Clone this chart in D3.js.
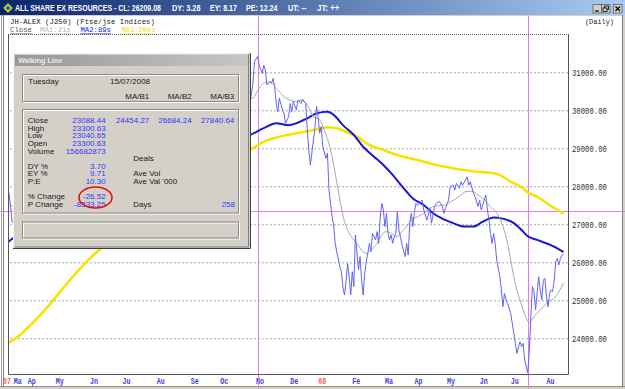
<!DOCTYPE html>
<html>
<head>
<meta charset="utf-8">
<script src="https://cdn.jsdelivr.net/npm/d3@7"></script>
<style>
  html, body { margin: 0; padding: 0; background: #fff; }
  svg { display: block; }
</style>
</head>
<body>
<svg id="chart" width="625" height="389"></svg>
<script>
// trading-day index (0 = ~mid March 2007), value
const closeSeries = [
  [-2,27950],[-1,27800],[0,27450],[1,27050],[4,27200],[8,27600],[12,27900],[17,28300],[22,28100],[27,28600],
  [32,28900],[37,29300],[42,28800],[47,29100],[52,29400],[57,29000],[62,29300],[67,29700],[72,29900],[77,30300],
  [82,29800],[87,29000],[92,28400],[97,27600],[100,28300],[104,28900],[109,29200],[114,29400],[119,29900],[124,29700],
  [129,30100],[134,30300],[139,30600],[144,30900],[149,30400],[152,30100],
  [154,30140],[156,30710],[157,31280],[159,31421],[160,31190],[162,30970],[163,31190],[164,31060],[165,30670],[167,30750],
  [168,30710],[169,30840],[170,30620],[171,30180],[172,29960],[173,30320],[175,30010],[176,29920],[177,29660],[179,29830],
  [180,30180],[181,29960],[182,30230],[184,30010],[185,30270],[187,30180],[188,30290],[190,30180],[191,29480],[192,28960],
  [193,28560],[195,29220],[196,29570],[197,30100],[198,29830],[199,29400],[200,29570],[201,29040],[203,28740],[204,28870],
  [205,27900],[207,27200],[208,26980],[209,26500],[210,26280],[212,25880],[213,25750],[214,25320],[215,25140],[216,25530],
  [217,25970],[218,25620],[219,25140],[220,25750],[221,25360],[222,26720],[223,26240],[224,25800],[225,26150],[226,25530],
  [227,25140],[228,25710],[229,26020],[230,26240],[231,26500],[232,26280],[233,26760],[235,26590],[236,26810],[237,26500],
  [238,27200],[239,27550],[240,27380],[241,26940],[242,27290],[243,26760],[244,26590],[245,26720],[246,26500],[247,26670],
  [248,26760],[249,27330],[250,26850],[251,26670],[252,26460],[254,26150],[255,26500],[256,26190],[257,27030],[258,27290],
  [259,26940],[260,27330],[261,27550],[262,27500],[265,27640],[266,27380],[268,27110],[270,27420],[271,27030],[273,27470],
  [274,27550],[276,27600],[278,27470],[279,27290],[280,27420],[282,27640],[283,27990],[285,28030],[286,27900],[287,28080],
  [289,27950],[290,28120],[291,28030],[293,28170],[294,28250],[295,28030],[296,28120],[298,27820],[299,27730],[301,27470],
  [302,27640],[303,27380],[305,27640],[306,27770],[307,27380],[308,27110],[309,26760],[310,26500],[311,26760],[312,26500],
  [313,26060],[315,25620],[316,25270],[317,24830],[318,25180],[319,25010],[320,24920],[322,24660],[323,24400],[324,24130],
  [325,23870],[326,23600],[327,23780],[328,23910],[329,23780],[330,23870],[331,23430],[332,23250],[333,23088.44],[334,23690],
  [335,24570],[336,25360],[337,25230],[338,24750],[339,25180],[340,25620],[341,25270],[342,25010],[343,25530],[344,25580],
  [345,25100],[346,24830],[347,25180],[348,25270],[349,25230],[350,25530],[351,26020],[352,26100],[353,25930],[354,26100],
  [355,26190],[356,26209.08]
];

const ma1Series = [
  [-2,27550],[10,27350],[20,27800],[30,28300],[40,28900],[50,29100],[60,29200],[70,29500],[80,29800],[90,29500],
  [100,28600],[110,28500],[120,29100],[130,29600],[140,30000],[150,30250],
  [156,30320],[160,30580],[163,30710],[167,30750],[171,30580],[176,30360],[180,30270],[184,30230],[187,30270],[191,30140],
  [195,29830],[199,29750],[202,29480],[206,28960],[209,28340],[212,27640],[215,27070],[219,26700],[223,26500],[226,26320],
  [229,26240],[232,26320],[236,26500],[239,26720],[242,26810],[245,26760],[249,26670],[252,26810],[255,26940],[258,27110],
  [262,27200],[266,27290],[270,27430],[274,27480],[279,27500],[283,27580],[290,27770],[293,27860],[297,27870],[300,27800],
  [304,27680],[309,27460],[312,27350],[315,27160],[317,26940],[320,26500],[322,26060],[324,25620],[326,25270],[328,25010],
  [330,24750],[333,24454.27],[334,24420],[337,24570],[340,24700],[343,24830],[346,24960],[350,25050],[353,25230],[356,25450]
];

const ma2Series = [
  [-2,26520],[1,26620],[20,26950],[40,27350],[60,27800],[80,28250],[100,28650],[120,28900],[140,29150],
  [154,29350],[163,29530],[171,29660],[179,29610],[184,29660],[191,29790],[197,29920],[204,29960],[208,29880],[214,29610],
  [221,29350],[227,29040],[234,28780],[240,28560],[246,28300],[253,27950],[259,27680],[266,27510],[272,27290],[279,27130],
  [285,27030],[292,26940],[298,26940],[304,27070],[311,27180],[317,27150],[324,27030],[329,26850],[333,26684.24],[339,26590],
  [345,26500],[352,26370],[356,26270]
];

const ma3Series = [
  [-2,23870],[6,24090],[15,24440],[23,24790],[32,25230],[40,25620],[49,26020],[58,26370],[70,26800],[85,27300],
  [100,27750],[115,28150],[130,28500],[145,28800],
  [154,28955],[163,29174],[173,29305],[184,29395],[195,29482],[204,29553],[210,29526],[216,29437],[223,29305],[231,29087],
  [240,28955],[249,28824],[257,28737],[266,28647],[274,28561],[283,28489],[292,28429],[300,28384],[309,28358],[315,28297],
  [322,28121],[330,27947],[333,27840.64],[339,27726],[347,27508],[356,27290]
];

const yTicks = [24000, 25000, 26000, 27000, 28000, 29000, 30000, 31000];
const monthLabels = ['07','Ma','Ap','My','Jn','Ju','Au','Se','Oc','No','De','08','Fe','Ma','Ap','My','Jn','Ju','Au'];
const monthDays = [-4, 3, 12, 30, 52, 73, 95, 117, 136, 159, 181, 199, 221, 242, 261, 282, 303, 323, 346];
const cursorDays = [159, 333];
const cursorValue = 27350;

const titleParts = [
  ['ALL SHARE EX RESOURCES  -  CL: 26209.08', 15, 146],
  ['DY: 3.28', 172, 28.5],
  ['EY: 8.17', 210, 27],
  ['PE: 12.24', 246, 31.5],
  ['UT: --', 288, 18.5],
  ['JT: ++', 317, 22.5]
];
const legendParts = [
  ['Close', 10, 22, '#555555'],
  ['MA1:21e', 40, 31, '#b8b8b8'],
  ['MA2:89s', 80.5, 30.5, '#2020e0'],
  ['MA3:200s', 121.6, 34, '#f0e020']
];

const panelRows = ['Close', 'High', 'Low', 'Open', 'Volume', 'DY %', 'EY %', 'P:E', '% Change', 'P Change'];
const panelValues = ['23088.44', '23300.63', '23040.65', '23300.63', '156682873', '3.70', '9.71', '10.30', '-26.52', '-8333.25'];
const panelMAHeads = ['MA/B1', 'MA/B2', 'MA/B3'];
const panelMAValues = ['24454.27', '26684.24', '27840.64'];

const svg = d3.select('#chart');
const plot = { left: 8, right: 568, top: 34, bottom: 374 };

const x = d3.scaleLinear().domain([-1.7, 358.9]).range([plot.left, plot.right]);
const y = d3.scaleLinear().domain([23061, 32008]).range([plot.bottom, plot.top]);

// squeeze a text horizontally to a given width, keeping its left edge
function fitWidth(sel, w) {
  sel.each(function () {
    let n = this.getComputedTextLength();
    let k = w / n;
    let tx = +this.getAttribute('x') || 0;
    d3.select(this).attr('transform', `translate(${tx},0) scale(${k},1) translate(${-tx},0)`);
  });
}

const defs = svg.append('defs');
let tg = defs.append('linearGradient').attr('id', 'titleGrad');
tg.append('stop').attr('offset', '0%').attr('stop-color', '#0a246a');
tg.append('stop').attr('offset', '100%').attr('stop-color', '#a9cbf2');
let hg = defs.append('linearGradient').attr('id', 'headGrad');
hg.append('stop').attr('offset', '0%').attr('stop-color', '#989898');
hg.append('stop').attr('offset', '100%').attr('stop-color', '#c6c6c6');
defs.append('clipPath').attr('id', 'plotClip')
  .append('rect')
  .attr('x', plot.left).attr('y', plot.top)
  .attr('width', plot.right - plot.left).attr('height', plot.bottom - plot.top);

// window
svg.append('rect').attr('width', 625).attr('height', 389).attr('fill', '#ffffff');
svg.append('rect').attr('width', 625).attr('height', 15).attr('fill', 'url(#titleGrad)');
svg.append('line').attr('x1', 0).attr('x2', 625).attr('y1', 15.5).attr('y2', 15.5).attr('stroke', '#d4d0c8');

// icon
svg.append('path').attr('d', 'M8,3 L13,8 L8,13 L3,8 Z').attr('fill', '#e8d020').attr('stroke', '#207040');
svg.append('path').attr('d', 'M8,5.5 L10.5,8 L8,10.5 L5.5,8 Z').attr('fill', '#3050c0');

titleParts.forEach(([t, tx, tw]) => {
  let el = svg.append('text')
    .attr('x', tx).attr('y', 11.5)
    .attr('font-family', 'Liberation Sans, Arial, sans-serif')
    .attr('font-weight', 'bold').attr('font-size', 9)
    .attr('fill', '#ffffff')
    .text(t);
  fitWidth(el, tw);
});

// window buttons
[[593, 'min'], [601.5, 'max'], [613.5, 'close']].forEach(([bx, kind]) => {
  let b = svg.append('g').attr('transform', `translate(${bx},4.5)`);
  b.append('rect').attr('width', 8.5).attr('height', 8.5).attr('fill', '#d4d0c8').attr('stroke', '#404040').attr('stroke-width', 0.6);
  if (kind === 'min') {
    b.append('line').attr('x1', 2).attr('x2', 6).attr('y1', 6.5).attr('y2', 6.5).attr('stroke', '#000').attr('stroke-width', 1.2);
  } else if (kind === 'max') {
    b.append('rect').attr('x', 3).attr('y', 1.5).attr('width', 4).attr('height', 3.5).attr('fill', 'none').attr('stroke', '#000').attr('stroke-width', 0.8);
    b.append('rect').attr('x', 1.5).attr('y', 3.5).attr('width', 4).attr('height', 3.5).attr('fill', '#d4d0c8').attr('stroke', '#000').attr('stroke-width', 0.8);
  } else {
    b.append('path').attr('d', 'M2,2 L6.5,6.5 M6.5,2 L2,6.5').attr('stroke', '#000').attr('stroke-width', 1.2);
  }
});

// window borders
svg.append('line').attr('x1', 1.5).attr('x2', 1.5).attr('y1', 15).attr('y2', 389).attr('stroke', '#a0a0a0');
svg.append('line').attr('x1', 3.5).attr('x2', 3.5).attr('y1', 15).attr('y2', 389).attr('stroke', '#808080');
svg.append('line').attr('x1', 622.5).attr('x2', 622.5).attr('y1', 15).attr('y2', 389).attr('stroke', '#808080');
svg.append('rect').attr('x', 623).attr('y', 15).attr('width', 2).attr('height', 374).attr('fill', '#d4d0c8');
svg.append('rect').attr('x', 0).attr('y', 386.5).attr('width', 625).attr('height', 2.5).attr('fill', '#d4d0c8');
svg.append('line').attr('x1', 0).attr('x2', 625).attr('y1', 386.5).attr('y2', 386.5).attr('stroke', '#909090');

// header text
const mono = 'Liberation Mono, Courier New, monospace';
let head = svg.append('text').attr('x', 10).attr('y', 24)
  .attr('font-family', mono).attr('font-size', 7.5).attr('fill', '#202020')
  .text('JH-ALEX (J250) (Ftse/jse Indices)');
fitWidth(head, 145);
let daily = svg.append('text').attr('x', 585).attr('y', 24)
  .attr('font-family', mono).attr('font-size', 7.5).attr('fill', '#202020')
  .text('(Daily)');
fitWidth(daily, 29);
legendParts.forEach(([t, tx, tw, c]) => {
  let el = svg.append('text').attr('x', tx).attr('y', 32.5)
    .attr('font-family', mono).attr('font-size', 7.5).attr('fill', c)
    .attr('text-decoration', 'underline')
    .text(t);
  fitWidth(el, tw);
});

// grid lines
let grid = svg.append('g').attr('transform', `translate(${plot.right},0)`)
  .call(d3.axisLeft(y).tickValues(yTicks).tickSize(plot.right - plot.left).tickFormat(''));
grid.select('.domain').remove();
grid.selectAll('line').attr('stroke', '#a4a4c4').attr('stroke-dasharray', '2,2');

// y labels
let yAxis = svg.append('g').attr('transform', `translate(${plot.right},0)`)
  .call(d3.axisRight(y).tickValues(yTicks).tickSize(0).tickPadding(4).tickFormat(d3.format('.2f')));
yAxis.select('.domain').remove();
yAxis.selectAll('text')
  .attr('font-family', mono).attr('font-size', 8.5).attr('fill', '#303030');
fitWidth(yAxis.selectAll('text'), 35);

// month labels
let xAxis = svg.append('g').attr('transform', `translate(0,${plot.bottom})`)
  .call(d3.axisBottom(x).tickValues(monthDays).tickSize(0).tickPadding(4).tickFormat((d, i) => monthLabels[i]));
xAxis.select('.domain').remove();
xAxis.selectAll('text')
  .attr('text-anchor', 'start').attr('x', -2)
  .attr('font-family', mono).attr('font-size', 8.5).attr('font-weight', 'bold')
  .attr('fill', (d, i) => /\d/.test(monthLabels[i]) ? '#ff6060' : '#4040d0');
fitWidth(xAxis.selectAll('text'), 8);

// cursor lines
cursorDays.forEach((d) => {
  svg.append('line')
    .attr('x1', Math.round(x(d)) + 0.5).attr('x2', Math.round(x(d)) + 0.5)
    .attr('y1', 16).attr('y2', 389)
    .attr('stroke', '#ea7aea');
});
svg.append('line')
  .attr('x1', 0).attr('x2', 625)
  .attr('y1', Math.round(y(cursorValue)) + 0.5).attr('y2', Math.round(y(cursorValue)) + 0.5)
  .attr('stroke', '#ea7aea');

// series
let lines = svg.append('g').attr('clip-path', 'url(#plotClip)');
let smooth = d3.line().x((d) => x(d[0])).y((d) => y(d[1])).curve(d3.curveMonotoneX);
let jagged = d3.line().x((d) => x(d[0])).y((d) => y(d[1]));

lines.append('path').attr('d', smooth(ma3Series)).attr('fill', 'none').attr('stroke', '#f6e400').attr('stroke-width', 2.6);
lines.append('path').attr('d', smooth(ma2Series)).attr('fill', 'none').attr('stroke', '#1818d0').attr('stroke-width', 2);
lines.append('path').attr('d', smooth(ma1Series)).attr('fill', 'none').attr('stroke', '#a8a8a8').attr('stroke-width', 1);
lines.append('path').attr('d', jagged(closeSeries)).attr('fill', 'none').attr('stroke', '#6464f2').attr('stroke-width', 1);

// plot frame
svg.append('line').attr('x1', plot.left).attr('x2', plot.right).attr('y1', plot.top + 0.5).attr('y2', plot.top + 0.5)
  .attr('stroke', '#606060').attr('stroke-dasharray', '1,1');
svg.append('path')
  .attr('d', `M${plot.left + 0.5},${plot.top} V${plot.bottom + 0.5} H${plot.right + 0.5} V${plot.top}`)
  .attr('fill', 'none').attr('stroke', '#555555');

// walking line panel
const sans = 'Liberation Sans, Arial, sans-serif';
let panel = svg.append('g');
panel.append('rect').attr('x', 13).attr('y', 53).attr('width', 237).attr('height', 195.5).attr('fill', '#d4d0c8');
panel.append('path').attr('d', 'M13.5,248 V53.5 H249.5').attr('fill', 'none').attr('stroke', '#f4f4f4');
panel.append('path').attr('d', 'M14.5,247 H248.5 V54').attr('fill', 'none').attr('stroke', '#808080');
panel.append('path').attr('d', 'M13,248.5 H250.5 V53').attr('fill', 'none').attr('stroke', '#404040');
panel.append('rect').attr('x', 15).attr('y', 55).attr('width', 233).attr('height', 11).attr('fill', 'url(#headGrad)');
let wl = panel.append('text').attr('x', 18.3).attr('y', 63.5)
  .attr('font-family', sans).attr('font-size', 8).attr('font-weight', 'bold').attr('fill', '#ececec')
  .text('Walking Line');
fitWidth(wl, 44);

function groupBox(bx, by, bw, bh) {
  panel.append('rect').attr('x', bx + 1).attr('y', by + 1).attr('width', bw).attr('height', bh)
    .attr('fill', 'none').attr('stroke', '#ffffff');
  panel.append('rect').attr('x', bx).attr('y', by).attr('width', bw).attr('height', bh)
    .attr('fill', 'none').attr('stroke', '#8a8a8a');
}
groupBox(22.5, 74.5, 216, 27);
groupBox(22.5, 109.5, 216, 103.5);
groupBox(22.5, 222, 216, 16);

function ptext(t, tx, ty, anchor, color) {
  panel.append('text').attr('x', tx).attr('y', ty)
    .attr('font-family', sans).attr('font-size', 8)
    .attr('text-anchor', anchor).attr('fill', color)
    .text(t);
}
const labelColor = '#202020';
const valueColor = '#3434ff';
const maCols = [149.3, 191.7, 234.3];
ptext('Tuesday', 28.3, 84, 'start', labelColor);
ptext('15/07/2008', 110, 84, 'start', labelColor);
panelMAHeads.forEach((t, i) => ptext(t, maCols[i], 99, 'end', labelColor));

const rowY = [123, 130.7, 138.4, 146.1, 153.8, 168.6, 176.3, 184, 199, 207];
panelRows.forEach((t, i) => {
  ptext(t, 27.7, rowY[i], 'start', labelColor);
  ptext(panelValues[i], 105.7, rowY[i], 'end', valueColor);
});
panelMAValues.forEach((t, i) => ptext(t, maCols[i], rowY[0], 'end', valueColor));
ptext('Deals', 133.3, 160.9, 'start', labelColor);
ptext('Ave Vol', 133.3, 176.3, 'start', labelColor);
ptext("Ave Val '000", 133.3, 184, 'start', labelColor);
ptext('Days', 133.3, 207, 'start', labelColor);
ptext('258', 235, 207, 'end', valueColor);

panel.append('ellipse').attr('cx', 95.5).attr('cy', 197.5).attr('rx', 16.5).attr('ry', 10.5)
  .attr('fill', 'none').attr('stroke', '#e01010').attr('stroke-width', 1.6);
</script>
</body>
</html>
